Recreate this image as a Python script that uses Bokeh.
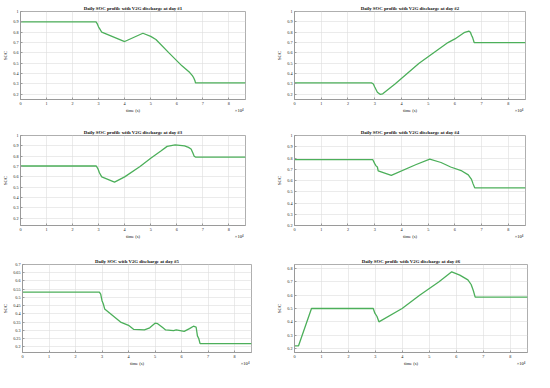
from bokeh.plotting import figure
from bokeh.layouts import column, row
from bokeh.models import FixedTicker, CustomJSTickFormatter, Range1d, LinearAxis
from bokeh.embed import file_html
from bokeh.resources import INLINE

# time in units of 1e4 s, SOC values
t1 = [0, 2.9, 2.95, 3.0, 3.05, 3.12, 4.0, 4.7, 5.0, 5.2, 5.7, 6.2, 6.5, 6.6, 6.65, 6.7, 6.72, 8.64]
s1 = [0.9, 0.9, 0.88, 0.85, 0.83, 0.80, 0.71, 0.79, 0.76, 0.73, 0.60, 0.475, 0.41, 0.38, 0.36, 0.33, 0.31, 0.31]

t2 = [0, 2.88, 2.95, 3.0, 3.1, 3.2, 3.3, 3.76, 4.66, 5.74, 6.0, 6.34, 6.52, 6.58, 6.62, 6.66, 6.72, 8.64]
s2 = [0.31, 0.31, 0.30, 0.27, 0.22, 0.20, 0.205, 0.30, 0.50, 0.70, 0.735, 0.795, 0.81, 0.80, 0.77, 0.75, 0.70, 0.70]

t3 = [0, 2.91, 2.97, 3.03, 3.12, 3.61, 4.0, 4.59, 5.0, 5.39, 5.63, 5.94, 6.3, 6.45, 6.55, 6.62, 6.67, 6.73, 8.64]
s3 = [0.705, 0.705, 0.68, 0.64, 0.60, 0.55, 0.60, 0.70, 0.78, 0.85, 0.895, 0.91, 0.90, 0.885, 0.87, 0.83, 0.80, 0.79, 0.79]

t4 = [0, 2.93, 3.0, 3.05, 3.1, 3.13, 3.62, 4.53, 5.06, 5.48, 5.84, 6.26, 6.5, 6.62, 6.68, 6.74, 8.64]
s4 = [0.785, 0.785, 0.75, 0.73, 0.72, 0.685, 0.645, 0.74, 0.79, 0.76, 0.72, 0.685, 0.65, 0.61, 0.57, 0.535, 0.535]

t5 = [0, 2.9, 2.95, 3.0, 3.05, 3.1, 3.7, 4.0, 4.2, 4.6, 4.8, 5.0, 5.1, 5.3, 5.4, 5.7, 5.8, 6.0, 6.1, 6.3, 6.45, 6.55, 6.6, 6.65, 6.7, 8.64]
s5 = [0.532, 0.532, 0.52, 0.48, 0.46, 0.43, 0.35, 0.33, 0.305, 0.303, 0.315, 0.343, 0.34, 0.315, 0.302, 0.298, 0.302, 0.297, 0.293, 0.31, 0.325, 0.32, 0.266, 0.25, 0.219, 0.219]

t6 = [0, 0.15, 0.63, 2.92, 2.98, 3.06, 3.13, 3.99, 4.64, 5.36, 5.83, 6.13, 6.43, 6.55, 6.63, 6.7, 8.64]
s6 = [0.22, 0.22, 0.5, 0.5, 0.465, 0.44, 0.40, 0.50, 0.60, 0.70, 0.775, 0.75, 0.715, 0.68, 0.635, 0.585, 0.585]

titles = [
    "Daily SOC profile with V2G discharge at day #1",
    "Daily SOC profile with V2G discharge at day #2",
    "Daily SOC profile with V2G discharge at day #3",
    "Daily SOC profile with V2G discharge at day #4",
    "Daily SOC with V2G discharge at day #5",
    "Daily SOC profile with V2G discharge at day #6",
]
x_ticks = [0, 1, 2, 3, 4, 5, 6, 7, 8]
y_ticks_a = [0.2, 0.3, 0.4, 0.5, 0.6, 0.7, 0.8, 0.9, 1.0]
y_ticks_5 = [0.2, 0.25, 0.3, 0.35, 0.4, 0.45, 0.5, 0.55, 0.6, 0.65, 0.7]
y_ticks_6 = [0.2, 0.3, 0.4, 0.5, 0.6, 0.7, 0.8]
x_label = "time (s)"
x_label_pos = 43200
x_mult = "×10⁴"
x_mult_pos = 84000
y_label = "SOC"

FONT = "Liberation Serif"
GREEN = "#4caf5a"
AX = "#9a9a9a"


def make_fig(title, t, s, ylo, yhi, yticks, w, h, bl, br, bt, bb):
    secs = [v * 1e4 for v in t]
    p = figure(width=w, height=h, output_backend="svg", toolbar_location=None,
               x_range=Range1d(0, 86400), y_range=Range1d(ylo, yhi),
               min_border_left=bl, min_border_right=br, min_border_top=bt, min_border_bottom=bb)
    p.title.text = title
    p.title.text_font = FONT
    p.title.text_font_size = "4.8px"
    p.title.text_font_style = "bold"
    p.title.text_color = "#111111"
    p.title.align = "center"
    p.title.standoff = 2
    p.title.offset = 0
    p.line(secs, s, line_color=GREEN, line_width=1.3)
    p.xaxis.ticker = FixedTicker(ticks=[v * 1e4 for v in x_ticks])
    p.xaxis.formatter = CustomJSTickFormatter(code="return (tick/10000).toFixed(0);")
    p.yaxis.ticker = FixedTicker(ticks=yticks)
    p.yaxis.formatter = CustomJSTickFormatter(
        code="return tick.toFixed(2).replace(/0+$/,'').replace(/\\.$/,'');")
    p.yaxis.axis_label = y_label
    for ax in (p.xaxis[0], p.yaxis[0]):
        ax.major_label_text_font = FONT
        ax.major_label_text_font_size = "4.2px"
        ax.axis_label_text_font = FONT
        ax.axis_label_text_font_size = "4.6px"
        ax.axis_label_text_font_style = "normal"
        ax.axis_label_standoff = 2
        ax.major_label_standoff = 2
        ax.major_tick_in = 2
        ax.major_tick_out = 0
        ax.minor_tick_in = 0
        ax.minor_tick_out = 0
        ax.axis_line_color = AX
        ax.major_tick_line_color = AX
        ax.major_label_text_color = "#222222"
        ax.axis_label_text_color = "#111111"
    # second row under the x axis: axis label and the x10^4 multiplier
    lab_axis = LinearAxis(ticker=FixedTicker(ticks=[x_label_pos, x_mult_pos]),
                          major_label_overrides={x_label_pos: x_label, x_mult_pos: x_mult},
                          axis_line_color=None, major_tick_line_color=None,
                          minor_tick_line_color=None, major_label_standoff=0,
                          major_tick_in=0, major_tick_out=0, minor_tick_in=0, minor_tick_out=0,
                          major_label_text_font=FONT, major_label_text_font_size="4.6px",
                          major_label_text_color="#111111")
    p.add_layout(lab_axis, "below")
    p.grid.grid_line_color = "#dedede"
    p.grid.grid_line_width = 0.6
    p.outline_line_color = AX
    p.outline_line_width = 0.8
    p.background_fill_color = "white"
    p.border_fill_color = "white"
    return p


p1 = make_fig(titles[0], t1, s1, 0.15, 1.0, y_ticks_a, 274, 123, 20, 29, 11, 24)
p2 = make_fig(titles[1], t2, s2, 0.15, 1.0, y_ticks_a, 260, 123, 19, 9, 11, 23)
p3 = make_fig(titles[2], t3, s3, 0.13, 1.0, y_ticks_a, 274, 127, 15, 29, 12, 25)
p4 = make_fig(titles[3], t4, s4, 0.2, 1.0, y_ticks_a, 260, 127, 19, 9, 11, 24)
p5 = make_fig(titles[4], t5, s5, 0.165, 0.7, y_ticks_5, 274, 122, 17, 23, 11, 16)
p6 = make_fig(titles[5], t6, s6, 0.17, 0.83, y_ticks_6, 260, 122, 19, 7, 14, 20)

layout = column(row(p1, p2, spacing=0), row(p3, p4, spacing=0), row(p5, p6, spacing=0), spacing=0)

with open("out.html", "w") as f:
    f.write(file_html(layout, INLINE))
